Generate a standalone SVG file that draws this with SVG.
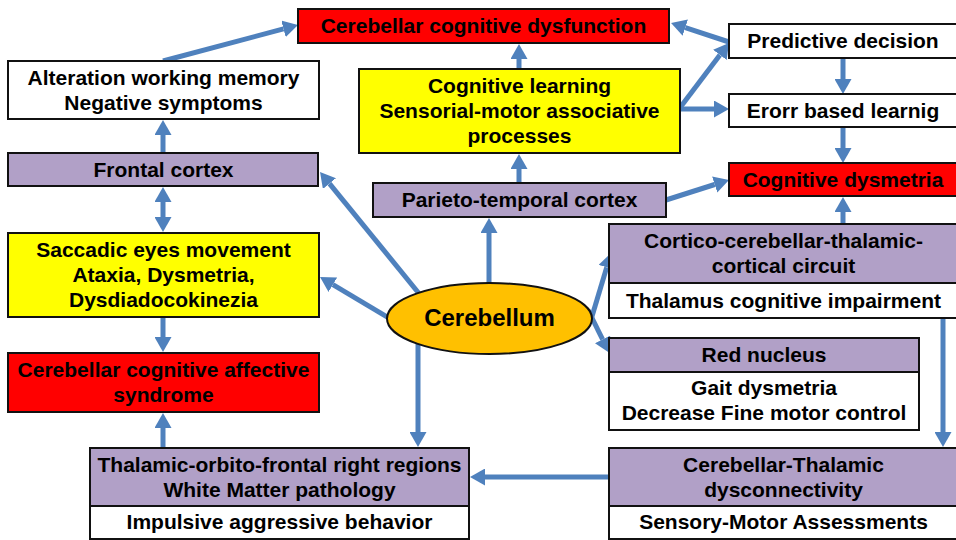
<svg xmlns="http://www.w3.org/2000/svg" width="956" height="540" viewBox="0 0 956 540">
<defs>
<style>
.b{stroke:#111;stroke-width:2}
.red{fill:#FF0000}
.yel{fill:#FFFF00}
.pur{fill:#B1A0C7}
.wht{fill:#FFFFFF}
.org{fill:#FFC000}
text{font-family:"Liberation Sans",Arial,sans-serif;font-weight:bold;font-size:21px;fill:#000;text-anchor:middle}
.big{font-size:24px}
.c{stroke:#4F81BD;stroke-width:5;fill:none;marker-end:url(#ah)}
.d{marker-start:url(#ah)}
</style>
<marker id="ah" viewBox="0 0 15 17" markerWidth="15" markerHeight="17" refX="0" refY="8.5" orient="auto-start-reverse" markerUnits="userSpaceOnUse">
<path d="M0,0 L15,8.5 L0,17 z" fill="#4F81BD"/>
</marker>
</defs>
<rect width="956" height="540" fill="#FFFFFF"/>
<g id="connectors">
<line class="c" x1="163" y1="61" x2="283.5" y2="28.9"/>
<line class="c" x1="163" y1="153" x2="163" y2="135"/>
<line class="c d" x1="163" y1="202" x2="163" y2="217"/>
<line class="c" x1="163" y1="318" x2="163" y2="337"/>
<line class="c" x1="163" y1="447" x2="163" y2="428"/>
<line class="c" x1="430" y1="307" x2="329.5" y2="183.6"/>
<line class="c" x1="400" y1="324.7" x2="332.9" y2="284.7"/>
<line class="c" x1="418" y1="330" x2="418" y2="432"/>
<line class="c" x1="489" y1="300" x2="489" y2="233"/>
<line class="c" x1="519" y1="183" x2="519" y2="169"/>
<line class="c" x1="519" y1="69" x2="519" y2="59"/>
<line class="c" x1="679" y1="109" x2="719.9" y2="54.9"/>
<line class="c" x1="679" y1="109" x2="714" y2="109"/>
<line class="c" x1="729" y1="42" x2="685.3" y2="27.7"/>
<line class="c" x1="843" y1="58" x2="843" y2="79"/>
<line class="c" x1="843" y1="127" x2="843" y2="148"/>
<line class="c" x1="666" y1="200" x2="714.7" y2="184.5"/>
<line class="c" x1="843" y1="224" x2="843" y2="212"/>
<line class="c" x1="590" y1="323" x2="606.7" y2="267.4"/>
<line class="c" x1="588" y1="310" x2="602.6" y2="339.4"/>
<line class="c" x1="943" y1="318" x2="943" y2="432"/>
<line class="c" x1="609" y1="477" x2="485" y2="477"/>
</g>
<g id="cerebellar-cognitive-dysfunction">
<rect class="b red" x="298" y="9" width="371" height="34"/>
<text x="483.5" y="33">Cerebellar cognitive dysfunction</text>
</g>
<g id="alteration-working-memory">
<rect class="b wht" x="8" y="61" width="311" height="58"/>
<text x="163.5" y="84.5">Alteration working memory</text>
<text x="163.5" y="109.5">Negative symptoms</text>
</g>
<g id="frontal-cortex">
<rect class="b pur" x="8" y="153" width="310" height="33"/>
<text x="163.5" y="176.5">Frontal cortex</text>
</g>
<g id="cognitive-learning">
<rect class="b yel" x="359" y="69" width="321" height="84"/>
<text x="519.5" y="93">Cognitive learning</text>
<text x="519.5" y="118">Sensorial-motor associative</text>
<text x="519.5" y="143">processes</text>
</g>
<g id="parieto-temporal-cortex">
<rect class="b pur" x="373" y="183" width="293" height="34"/>
<text x="519.5" y="207">Parieto-temporal cortex</text>
</g>
<g id="predictive-decision">
<rect class="b wht" x="729" y="24" width="232" height="34"/>
<text x="843" y="48">Predictive decision</text>
</g>
<g id="error-based-learning">
<rect class="b wht" x="729" y="94" width="232" height="33"/>
<text x="843" y="117.5">Erorr based learnig</text>
</g>
<g id="cognitive-dysmetria">
<rect class="b red" x="729" y="163" width="232" height="33"/>
<text x="843" y="186.5">Cognitive dysmetria</text>
</g>
<g id="cortico-cerebellar-circuit">
<rect class="b pur" x="609" y="224" width="352" height="59"/>
<rect class="b wht" x="609" y="283" width="352" height="35"/>
<text x="783.5" y="248">Cortico-cerebellar-thalamic-</text>
<text x="783.5" y="273">cortical circuit</text>
<text x="783.5" y="307.5">Thalamus cognitive impairment</text>
</g>
<g id="red-nucleus">
<rect class="b pur" x="609" y="338" width="310" height="34"/>
<rect class="b wht" x="609" y="372" width="310" height="58"/>
<text x="764" y="362">Red nucleus</text>
<text x="764" y="395">Gait dysmetria</text>
<text x="764" y="420">Decrease Fine motor control</text>
</g>
<g id="cerebellar-thalamic-dysconnectivity">
<rect class="b pur" x="609" y="448" width="352" height="58"/>
<rect class="b wht" x="609" y="506" width="352" height="33"/>
<text x="783.5" y="471.5">Cerebellar-Thalamic</text>
<text x="783.5" y="496.5">dysconnectivity</text>
<text x="783.5" y="529">Sensory-Motor Assessments</text>
</g>
<g id="saccadic-eyes-movement">
<rect class="b yel" x="8" y="233" width="311" height="84"/>
<text x="163.5" y="257">Saccadic eyes movement</text>
<text x="163.5" y="282">Ataxia, Dysmetria,</text>
<text x="163.5" y="307">Dysdiadocokinezia</text>
</g>
<g id="cerebellar-cognitive-affective-syndrome">
<rect class="b red" x="8" y="353" width="311" height="59"/>
<text x="163.5" y="377">Cerebellar cognitive affective</text>
<text x="163.5" y="402">syndrome</text>
</g>
<g id="thalamic-orbito-frontal">
<rect class="b pur" x="90" y="448" width="379" height="58"/>
<rect class="b wht" x="90" y="506" width="379" height="33"/>
<text x="279.5" y="471.5">Thalamic-orbito-frontal right regions</text>
<text x="279.5" y="496.5">White Matter pathology</text>
<text x="279.5" y="529">Impulsive aggressive behavior</text>
</g>
<g id="cerebellum">
<ellipse class="b org" cx="489.5" cy="318.5" rx="102.5" ry="35.5"/>
<text class="big" x="489.5" y="326">Cerebellum</text>
</g>
</svg>
